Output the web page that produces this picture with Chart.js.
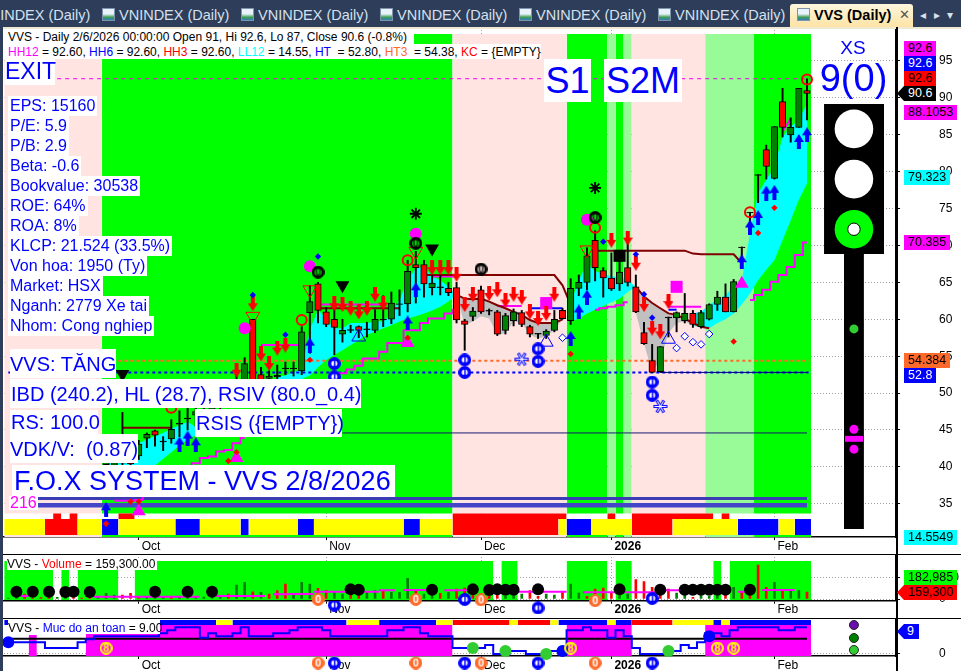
<!DOCTYPE html>
<html>
<head>
<meta charset="utf-8">
<title>VVS (Daily)</title>
<script src="https://cdn.jsdelivr.net/npm/chart.js@4/dist/chart.umd.min.js"></script>
<style>
html,body{margin:0;padding:0;background:#fff;overflow:hidden;width:961px;height:671px;font-family:"Liberation Sans",Arial,sans-serif}
canvas{position:absolute;left:0}
.abs{position:absolute}
.tabbar{left:0;top:0;width:961px;height:27px;background:#2d3d5a}
.tab{position:absolute;top:6px;color:#d5e1ee;font-size:14.5px;line-height:18px;white-space:nowrap}
.icon{position:absolute;top:8px;width:13px;height:13px;background:linear-gradient(#e8f2fb 45%,#3f9c4f 75%,#2f7fc0);border:1px solid #7f93ad;box-sizing:border-box}
.active{left:790px;top:4px;width:123px;height:23px;background:linear-gradient(#fdf6dc,#fde3a6);border-radius:3px 3px 0 0}
.lbl{position:absolute;background:#fff;color:#00f;white-space:nowrap;line-height:1;display:flex;align-items:center;box-sizing:border-box}
.tag{position:absolute;left:904px;height:15px;font-size:12.5px;line-height:15px;padding-left:4px;box-sizing:border-box;color:#000;white-space:nowrap}
.arrow{left:897px;padding-left:11px;clip-path:polygon(0 50%,7px 0,100% 0,100% 100%,7px 100%)}
.sm{font-size:12px;color:#000}
</style>
</head>
<body>
<div class="abs tabbar"></div>
<div class="tab" style="left:-20px">VNINDEX (Daily)</div>
<div class="icon" style="left:102px"></div><div class="tab" style="left:119px">VNINDEX (Daily)</div>
<div class="icon" style="left:241px"></div><div class="tab" style="left:258px">VNINDEX (Daily)</div>
<div class="icon" style="left:380px"></div><div class="tab" style="left:397px">VNINDEX (Daily)</div>
<div class="icon" style="left:519px"></div><div class="tab" style="left:536px">VNINDEX (Daily)</div>
<div class="icon" style="left:658px"></div><div class="tab" style="left:675px">VNINDEX (Daily)</div>
<div class="abs active"></div>
<div class="icon" style="left:797px"></div>
<div class="tab" style="left:814px;color:#000;font-weight:bold">VVS (Daily)</div>
<div class="tab" style="left:899px;color:#555;font-size:13px">✕</div>
<div class="tab" style="left:920px;font-size:12px;font-family:'DejaVu Sans'">◂</div>
<div class="tab" style="left:934px;font-size:12px;font-family:'DejaVu Sans'">▸</div>
<div class="tab" style="left:947px;font-size:12px;font-family:'DejaVu Sans'">▾</div>

<canvas id="mainPane" width="961" height="527" style="top:27px"></canvas>
<canvas id="volumePane" width="961" height="64" style="top:554px"></canvas>
<canvas id="safetyPane" width="961" height="53" style="top:618px"></canvas>
<canvas id="volumeRow" width="961" height="17" style="top:601px"></canvas>
<canvas id="safetyRow" width="961" height="15" style="top:656px"></canvas>

<div class="abs" style="left:0;top:27px;width:3px;height:644px;background:#2d3d5a"></div>
<div class="abs" style="left:3px;top:27px;width:958px;height:2px;background:#efe8d2"></div>
<div class="abs" style="left:896px;top:27px;width:1.5px;height:644px;background:#000"></div>
<div class="abs" style="left:3px;top:553.5px;width:958px;height:1.5px;background:#000"></div>
<div class="abs" style="left:3px;top:617.5px;width:958px;height:1.5px;background:#000"></div>

<div class="lbl sm" style="left:3px;top:29px;width:411px;height:15px;padding-left:5px">VVS - Daily 2/6/2026 00:00:00 Open 91, Hi 92.6, Lo 87, Close 90.6 (-0.8%)</div>
<div class="lbl sm" style="left:3px;top:44px;width:538px;height:15px;padding-left:5px;white-space:pre"><span style="color:#f0f">HH12</span> = 92.60, <span style="color:#00f">HH6</span> = 92.60, <span style="color:#f00">HH3</span> = 92.60, <span style="color:#0ff">LL12</span> = 14.55, <span style="color:#00f">HT</span>  = 52.80, <span style="color:#ff6a2a">HT3</span>  = 54.38, <span style="color:#f00">KC</span> = {EMPTY}</div>

<div class="lbl" style="left:5px;top:58px;width:50px;height:27px;font-size:23px">EXIT</div>
<div class="lbl" style="left:8px;top:96px;height:20px;font-size:16px;padding:0 2px">EPS: 15160</div>
<div class="lbl" style="left:8px;top:116px;height:20px;font-size:16px;padding:0 2px">P/E: 5.9</div>
<div class="lbl" style="left:8px;top:136px;height:20px;font-size:16px;padding:0 2px">P/B: 2.9</div>
<div class="lbl" style="left:8px;top:156px;height:20px;font-size:16px;padding:0 2px">Beta: -0.6</div>
<div class="lbl" style="left:8px;top:176px;height:20px;font-size:16px;padding:0 2px">Bookvalue: 30538</div>
<div class="lbl" style="left:8px;top:196px;height:20px;font-size:16px;padding:0 2px">ROE: 64%</div>
<div class="lbl" style="left:8px;top:216px;height:20px;font-size:16px;padding:0 2px">ROA: 8%</div>
<div class="lbl" style="left:8px;top:236px;height:20px;font-size:16px;padding:0 2px">KLCP: 21.524 (33.5%)</div>
<div class="lbl" style="left:8px;top:256px;height:20px;font-size:16px;padding:0 2px">Von hoa: 1950 (Ty)</div>
<div class="lbl" style="left:8px;top:276px;height:20px;font-size:16px;padding:0 2px">Market: HSX</div>
<div class="lbl" style="left:8px;top:296px;height:20px;font-size:16px;padding:0 2px">Nganh: 2779 Xe tai</div>
<div class="lbl" style="left:8px;top:316px;height:20px;font-size:16px;padding:0 2px">Nhom: Cong nghiep</div>
<div class="lbl" style="left:10px;top:349px;width:106px;height:29px;font-size:20px">VVS: TĂNG</div>
<div class="lbl" style="left:10px;top:379px;width:351px;height:29px;font-size:20px;padding-left:1px">IBD (240.2), HL (28.7), RSIV (80.0_0.4)</div>
<div class="lbl" style="left:10px;top:410px;width:88px;height:24px;font-size:20px;padding-left:1px">RS: 100.0</div>
<div class="lbl" style="left:195px;top:409px;width:147px;height:28px;font-size:20px;padding-left:1px">RSIS ({EMPTY})</div>
<div class="lbl" style="left:10px;top:434px;width:128px;height:29px;font-size:20px;white-space:pre">VDK/V:  (0.87)</div>
<div class="lbl" style="left:12px;top:465px;width:383px;height:32px;font-size:27px;padding-left:2px">F.O.X SYSTEM - VVS 2/8/2026</div>
<div class="lbl" style="left:9px;top:496px;width:29px;height:14px;font-size:16px;color:#f0f;padding-left:1px">216</div>
<div class="lbl" style="left:544px;top:59px;width:47px;height:43px;font-size:36px;justify-content:center">S1</div>
<div class="lbl" style="left:604px;top:59px;width:78px;height:43px;font-size:36px;justify-content:center">S2M</div>
<div class="lbl" style="left:811px;top:38px;width:84px;height:18px;font-size:19px;justify-content:center;background:none">XS</div>
<div class="lbl" style="left:811px;top:58px;width:85px;height:40px;font-size:38px;justify-content:center;background:none">9(0)</div>
<div class="lbl sm" style="left:7px;top:558px;width:150px;height:12px"><span>VVS - <span style="color:#f00">Volume</span> = 159,300.00</span></div>
<div class="lbl sm" style="left:8px;top:619px;width:152px;height:15px;padding-top:3px"><span>VVS - <span style="color:#00f">Muc do an toan</span> = 9.00</span></div>

<div class="tag" style="top:41px;width:32px;background:#f0f">92.6</div>
<div class="tag" style="top:56px;width:32px;background:#00f;color:#fff">92.6</div>
<div class="tag" style="top:71px;width:32px;background:#f00">92.6</div>
<div class="tag arrow" style="top:86px;width:39px;background:#000;color:#fff">90.6</div>
<div class="tag" style="top:105px;width:53px;background:#f0f">88.1053</div>
<div class="tag" style="top:170px;width:46px;background:#0ff">79.323</div>
<div class="tag" style="top:235px;width:46px;background:#f0f">70.385</div>
<div class="tag" style="top:353px;width:46px;background:#ff6a2a">54.384</div>
<div class="tag" style="top:368px;width:32px;background:#00f;color:#fff">52.8</div>
<div class="tag" style="top:530px;width:53px;background:#0ff">14.5549</div>
<div class="tag" style="top:570px;width:53px;background:#0f0">182,985</div>
<div class="tag arrow" style="top:585px;width:60px;background:#f00">159,300</div>
<div class="tag arrow" style="top:624px;width:22px;background:#00f;color:#fff;padding-left:10px">9</div>

<script>
// bars are numbered 0..98, month ticks sit on these bars
const monthTicks = [16, 39, 58, 74, 94];
const monthLabels = ['Oct', 'Nov', 'Dec', '2026', 'Feb'];
const priceTicks = [35, 40, 45, 50, 55, 60, 65, 70, 75, 80, 85, 90, 95];

const firstCandle = 12;
const opens = [40.3,40.2,41,41,41.5,43.9,44.9,43.5,43.8,45.9,
  46.6,47,49,47.8,49,49.5,50,50.7,60,52.5,
  52,52.2,53.4,53.4,53,60.9,64.8,61,60,58,
  58.6,59,58.7,58.5,60,60,62.1,62.1,67.4,67.4,
  64.3,64.4,64.2,64.3,59.8,60.4,64,61.2,61,58.5,
  59.8,60.9,59,58.1,57.8,58.5,61.2,59.8,64.2,65,
  70.7,66.6,65.6,64.8,67,64.4,58.2,54.4,52.9,60.3,
  60.2,59.8,60.8,59,60,62,63,61,69.7,74.5,
  79.6,83,79.1,89.5,85,86,91];
const closes = [41,40.6,40.5,40.4,43.1,44.4,44.3,43.4,45.1,45.8,
  46.5,47.5,48,48.6,48.2,48.5,51.5,54,50,51.5,
  52.3,52.4,53.3,53.3,58.3,62.4,61.2,59.3,58.9,58.5,
  58.5,58.5,58.6,60,59.9,62.2,62,66.5,67,64.8,
  64.9,64.3,63.6,59.9,59.3,61.1,61,61.1,58,60.5,
  61,59.3,58,58,58.4,60,60.1,64.2,65,68.6,
  67,65.6,64.1,66.4,65,61,56.7,52.8,56.3,60.2,
  60.9,60.8,59.3,60.9,62,63,61,65.1,69.8,74.4,
  79.5,80.7,86.1,86,86,91.3,90.6];
const highs = [42,41,47.4,42,43.6,44.6,45,44.1,46.4,47.6,
  48,49,50,50,50.5,51,53,54.8,60,53.5,
  53,53.8,54.2,54.2,59,64.6,65,61.6,62,60,
  59.2,59.1,59.6,61.3,63.2,63.7,64,68,69.2,68,
  66,66,65,65,60,61.6,64.5,61.4,61.2,60.8,
  61.4,61.2,59.2,58.1,58.6,61.2,61.5,65.5,66,69.7,
  72,67,69,69,70.6,66,59.6,56.6,56.3,60.3,
  61,63.5,61.2,61.2,62.1,63.8,64.8,65.4,69.8,74.5,
  79.6,83.6,86.1,91.3,87.3,91.3,92.6];
const lows = [39,39,40,40,41,42.6,42.8,42.2,43.2,44.1,
  45,45.5,47,47,47.5,48,49,50,49,51,
  50.5,51.5,52.5,52.3,52.5,55.4,59.5,59,55.2,56.9,
  58.2,57.5,57.6,58.2,59,59.4,60.5,61,62.2,63,
  63.3,63.3,63.2,59.5,55.8,59.8,60.8,60.6,57.8,58,
  59.1,59,57.6,57.4,57.4,58.3,60,59.3,63.2,64,
  65.2,63,63.9,63.9,64.5,60.9,56.6,52.8,52.8,57.6,
  58.3,59.5,58.9,58.8,59.9,61.2,61,61,67,72,
  75.8,79,79,84.7,84,86,87];

// background regimes, given as bar edges
const zoneEdges = [0,12,55,69,74,75,76,77,86,92,99];
const zoneKinds = ['exit','buy','exit','buy','hold','buy','hold','exit','hold','buy'];
const stripEdges = [0,5,9,12,14,21,24,29,30,36,38,49,51,55,68,69,72,77,82,90,95,97,99];
const stripKinds = ['side','down','side','up','side','up','side','up','side','up','side','up','side','down','side','up','side','down','side','up','side','up'];
const alertStarts = [6,8,14,55,74,77,88];
const alertEnds = [7,9,16,69,75,87,89];

// cyan band: bar of first value, then lower and upper edge
const cyanA = {start:4, low:[35.5,35.6,35.6,35.7,35.8,35.9,36,36.4,36.8,37.5,38,38.6,39.1,39.6,40.2,41.1,42,42.9,43.7,44.3],
  high:[38,38,38.5,39,39,39.5,40,40,40.5,41,41.5,42,43.2,43.7,44.2,44.6,45.2,45.6,46.1,45.4]};
const cyanB = {start:33, low:[48,49,50,51.9,52.4,53.5,54.5,55.2,55.8,56.5,57.2,57.9,58.3,58.8,59.2,59.7,60.1,60.4,60.8,61.2,61.7,62.4,63.3],
  high:[52.2,52.4,52.9,53.1,58.6,61.3,60.1,58.8,58.8,59.5,59.5,59.5,59.7,59.7,60.8,62.6,65.3,66.9,67.1,65.8,65.3,64.4,63.3]};
const cyanC = {start:69, low:[59.7,60.1,60.8,61.3,61.8,62.3,62.8,63.7,64.4], high:[62.2,65.3,67.6,66.5,66.2,65.8,65.8,65.3,64.4]};
const cyanD = {start:84, low:[59.1,59,58.8,59.5,60,60.8,62,63.5,65.3,66.7,68,70.7,73.4,76.2,78.4],
  high:[60.8,61,62,62.6,63.3,64.4,65.3,71.6,77.1,78.9,80.7,84.7,86.1,87,89.2]};
// grey band, its upper edge is the falling dark red line
const greyA = {start:55, low:[63.3,59.2,59.7,60.4,60.1,57.9,58.1,59.7,59.5,57.9,57.4,57.7,58.5,60],
  high:[63.3,62.8,62.7,62.8,62.4,61.9,61.5,61,60.6,59.9,59.5,59.5,59.5,60]};
const greyB = {start:77, low:[60.9,56.7,52.9,54.5,58.1,59.5,59.7,59.2,59,58.8],
  high:[64.4,63.1,62.2,61.5,60.8,60.6,60.1,59.5,59,58.8]};

// stepped lines
const lowLineA = {start:13, values:[35.4,35.4,35.4,35.5,37,37.5,38,38.5,39,40,40.5,41.2,41.4,42.1,42.3,43.2,43.9]};
const lowLineB = {start:40, values:[52.7,52.7,53.2,53.7,54.7,54.7,55.6,56.8,56.8,58.5,58.5,59.5,60.1,60.1,60.8,61.3]};
const lowLineC = {start:72, values:[61.3,61.5,61.7,61.9,62.3]};
const lowLineD = {start:91, values:[62.6,63.3,64,65.1,66,67.1,68.7,70.4]};
const midLineRuns = [
  {start:31, values:[56.5,56.5,56.5,56.5,56.5,56.5]},
  {start:38, values:[62,62,62,62,62,62,62,62,62]},
  {start:52, values:[65.8,65.8,65.8,65.8]},
  {start:60, values:[61.8,61.8,61.8,61.8]},
  {start:81, values:[61.7,61.7,61.7,61.7,61.7]},
  {start:95, values:[85.4,87.2]}];
const blueLineRuns = [{start:64, values:[61.5,61.5,61.5,61.5,61.5]}, {start:81, values:[61.3,61.3]}];
const darkLineRuns = [
  {start:14, values:[45.3,45.3,45.3,45.3,45.3,45.3,45.3]},
  {start:38, values:[61.5,61.5,61.5,61.5,61.5,61.5,61.5,61.5,61.5,61.5,61.5]},
  {start:51, values:[66,66,66,66,66,66,66,66,66,66,66,66,66,66,66,66,66,64.6,62]},
  {start:72, values:[69.3,69.3,69.3,69.3,69.3,69.3,69.3,69.3,69.3,69.3,69.3,69.3,68.9,68.8,68.8,68.8,68.8,68.8,67.6]}];

// levels: [value, first bar, last bar]
const levelHH = [92.6, 6, 98.4];
const levelHT3 = [54.38, 13.5, 98.2];
const levelHT = [52.8, 0, 98.2];
const levelHTsolid = [52.8, 80, 98];
const levelMid = [44.6, 41, 98];
const levelBandUp = [35.7, 3, 98];
const levelBandLow = [34.8, 3, 98];

// markers: [bar, price]
const upArrows = [[12,34.2],[21,43.1],[22,43.9],[23,43],[37,56.5],[49,59.5],[50,64],[69,57.4],[70,61],[71,63],[90,67.8],[91,72.5],[92,73.8],[93,77.1],[94,77.2],[97,84.1],[98,85]];
const downArrows = [[28,53.1],[30,62.1],[31,55.3],[32,54],[33,56.1],[34,56.5],[40,62.1],[41,62],[42,61.5],[43,61],[44,61.5],[45,63.4],[46,62.2],[52,67],[53,67],[54,67],[55,66.1],[56,62],[57,63.4],[59,63.5],[60,64],[61,62.6],[62,63.4],[63,63],[64,61],[65,60.1],[66,60.8],[67,63.4],[74,70.7],[76,71],[77,67.6],[78,62],[79,58.8],[80,58.3],[81,62.4]];
const pinkDisks = [[29,58.8],[37,67.2],[50,71.6],[71,73.5]];
const blackCoins = [[38,66.4],[50,70.3],[58,66.8],[72,73.8]];
const redRings = [[20,48],[36,59.9],[49,68],[72,72.4],[91,74.5],[98,92.5]];
const redWedges = [[30,60.4],[37,64],[50,69.2],[71,69.4]];
const blackWedges = [[14,52.6],[41,64.6],[52,69.6]];
const blackStars = [[50,74.3],[72,77.8]];
const blackSquares = [[75,68.6]];
const pinkSquares = [[66,62.2],[82,64.4]];
const pinkCones = [[16,34],[28,41.2],[49,56.8],[90,64.8]];
const blueCones = [[43,57.6],[66,56.9],[81,57.3]];
const blueCoins = [[40,54],[40,52.2],[56,54.5],[56,52.8],[65,56],[65,54.3],[79,51.5],[79,49.7]];
const snowflakes = [[63,54.6],[80,48.2]];
const hollowDiamonds = [[68,57.5],[82,56.1],[83,57.7],[84,56.9],[85,56.6],[86,58]];
const redDiamonds = [[12,32.3],[15,35.3],[16,35.3],[27,40.8],[28,42],[37,54.5],[49,57.5],[69,55.3],[89,57],[92,71.7],[94,75.1]];
const blueDiamonds = [[30,63.3],[34,57.9],[38,68.5],[73,70.5],[77,68.8],[78,63.4],[79,60.2]];

// traffic light beside the chart, in bars and price
const lampColumn = 103.76;
const whiteLamps = [85.8, 79];
const greenLamp = [72.2];
const signalGreen = [58.7];
const signalPink = [45.1, 42.4];

// volume pane, thousands of shares
const volumes = [23,39,116,23,31,31,39,31,31,23,39,46,131,92,92,131,39,62,62,62,62,46,39,39,46,46,77,116,323,385,169,154,116,193,347,116,385,347,246,193,154,116,92,116,154,193,193,154,154,477,216,116,154,131,154,231,254,154,131,62,92,62,77,116,193,62,116,92,154,347,139,62,231,254,131,154,116,447,400,270,154,231,139,92,39,77,62,77,92,270,154,193,785,270,385,216,193,193,159.3];
const volumeDownBars = [2,3,4,5,8,9,10,14,15,16,20,27,30,32,33,34,38,39,42,43,46,50,53,55,56,57,58,59,60,64,65,68,71,72,73,74,77,78,79,80,81,84,88,90,91,92,93,95,98];
const volumeAvgRuns = [[2,2,69],[11,23,54],[26,31,69],[33,34,108],[35,37,116],[38,45,169],[46,47,200],[49,51,208],[54,56,200],[63,64,169],[66,68,169],[71,74,154],[76,79,154],[81,82,200],[90,90,169],[93,96,208]];
const volumeZoneEdges = [0,6,7,8,9,14,16,60,61,63,69,74,75,77,87,88,89,99];
const volumeDots = [[1,169],[3,169],[5,169],[7,162],[8,169],[10,162],[18,169],[22,169],[25,169],[42,223],[43,215],[52,215],[57,223],[59,208],[60,223],[61,215],[62,215],[65,223],[75,223],[80,215],[83,215],[84,215],[85,215],[86,215],[87,215],[88,215],[91,215]];
const volumeOrangeCoins = [[38,-8],[50,-8],[58,-20],[72,-38]];
const volumeBlueCoins = [[56,-8],[79,15]];
const volumeRowBlueCoins = [[40,.76],[65,.59]];
const volumeTicks = [0, 500];

// safety pane
const safety = [4,4,4,4,4,2,2,2,2,4,5,6,6,6,6,6,6,6,6,7,8,9,9,9,5.5,7,6,6,7,9,6,6,6,7,7,8,9,9,9,8,6,6,6,6,6,6,6,8,8,9,9,7,6,6,6,2,2,2,2,3,0,0,1,1,0,0,0,1,0,8,8,9,8,8,5.5,8,6,2,0,0,0,1,1,3,2,4,7,7,6,8,9,9,9,9,9,8,8,9,9];
const safetyStripEdges = [0,26,28,42,46,53,55,62,63,67,68,74,75,77,82,87,88,89,99];
const safetyStripKinds = ['up','side','up','side','up','side','down','side','down','side','up','side','up','down','side','up','side','up'];
const safetyFillRuns = [[10,55],[69,77],[86,99]];
const safetyThinRun = [3, 4, 6.4];
const safetyMidLine = 5.15;
const safetyGreenDots = [[57,2],[61,1],[66,0],[81,1]];
const safetyBlueDots = [[0,4],[68,1],[86,6]];
const yellowCoins = [[12,2],[69,2],[87,2],[89,2]];
const safetyRowOrangeCoins = [[38,.53],[50,.53],[58,.53],[72,.53]];
const safetyRowBlueCoins = [[40,.53],[56,.53],[65,.53],[79,.53]];
const safetyLegendDots = [9.8, 5.4, 1.35];
const safetyTicks = [0];

const ZONE = {exit:'#ffe4e1', buy:'#00ff00', hold:'#98fb98'};
const STRIP = {up:'#0000ff', side:'#ffff00', down:'#ff0000'};
const FONT = '"Liberation Sans", Arial, sans-serif';
const X_MIN = -0.528, X_MAX = 108.92;

Chart.defaults.font.family = FONT;
Chart.defaults.font.size = 12;
Chart.defaults.color = '#000';

// helpers for datasets
function band(x0, x1, lo, hi, color, order) {
  return {type:'line', data:[{x:x0,y:hi},{x:x1,y:hi}], fill:{value:lo}, backgroundColor:color,
    borderWidth:0, borderColor:'transparent', pointRadius:0, order:order};
}
function runBands(edges, kinds, palette, lo, hi, order) {
  return kinds.map((k, n) => band(edges[n]-.5, edges[n+1]-.5, lo, hi, palette[k], order));
}
function run(seg, key) {
  const vals = key ? seg[key] : seg.values;
  return vals.map((y, k) => ({x:seg.start+k, y:y}));
}
function line(data, color, width, order, extra) {
  return Object.assign({type:'line', data:data, borderColor:color, borderWidth:width, pointRadius:0, fill:false, order:order}, extra);
}
function level(l, color, width, order, extra) {
  return line([{x:l[1],y:l[0]},{x:l[2],y:l[0]}], color, width, order, extra);
}
function marks(pts, style, radius, fillColor, edge, edgeWidth, order, extra) {
  return Object.assign({type:'line', showLine:false, clip:false, data:pts.map(p => ({x:p[0],y:p[1]})), pointStyle:style, pointRadius:radius,
    pointBackgroundColor:fillColor, pointBorderColor:edge, pointBorderWidth:edgeWidth, order:order}, extra);
}
function fillPair(seg, color, order) {
  return [
    line(run(seg,'low'), 'transparent', 0, order),
    line(run(seg,'high'), 'transparent', 0, order, {fill:'-1', backgroundColor:color})
  ];
}

// small canvases used as point styles
function glyph(w, h, draw) {
  const c = document.createElement('canvas');
  c.width = w; c.height = h;
  draw(c.getContext('2d'), w, h);
  return c;
}
const arrowUp = glyph(10, 15, (g) => {
  g.fillStyle = '#0000ff';
  g.beginPath(); g.moveTo(5,0); g.lineTo(10,8); g.lineTo(7,8); g.lineTo(7,15); g.lineTo(3,15); g.lineTo(3,8); g.lineTo(0,8); g.closePath(); g.fill();
});
const arrowDown = glyph(10, 15, (g) => {
  g.fillStyle = '#ff0000';
  g.beginPath(); g.moveTo(5,15); g.lineTo(10,7); g.lineTo(7,7); g.lineTo(7,0); g.lineTo(3,0); g.lineTo(3,7); g.lineTo(0,7); g.closePath(); g.fill();
});
function coin(size, ring, inner, ink, text, lw, fontSize) {
  return glyph(size, size, (g, w) => {
    g.beginPath(); g.arc(w/2, w/2, w/2-lw/2, 0, Math.PI*2);
    g.fillStyle = inner; g.fill();
    g.lineWidth = lw; g.strokeStyle = ring; g.stroke();
    g.fillStyle = ink; g.font = 'bold ' + fontSize + 'px ' + FONT;
    g.textAlign = 'center'; g.textBaseline = 'middle';
    g.fillText(text, w/2, w/2+.5);
  });
}
const coinBlack = coin(13, '#000', 'rgba(0,0,0,0)', '#000', '0', 3, 10);
const coinBlue = coin(13, '#0000ff', '#fff', '#0000ff', '1', 3.5, 11);
const coinOrange = coin(13, '#ff6a2a', '#ff6a2a', '#fff', '0', 1, 11);
const coinYellow = coin(13, '#ffff00', 'rgba(0,0,0,0)', '#ffff00', '8', 2, 11);
const flake = glyph(15, 15, (g) => {
  g.strokeStyle = '#0000ff'; g.lineWidth = 3;
  for (const a of [0, 60, 120]) {
    g.save(); g.translate(7.5,7.5); g.rotate(a*Math.PI/180);
    g.beginPath(); g.moveTo(-7,0); g.lineTo(7,0); g.stroke();
    g.restore();
  }
  g.strokeStyle = '#fff'; g.lineWidth = 1;
  for (const a of [0, 60, 120]) {
    g.save(); g.translate(7.5,7.5); g.rotate(a*Math.PI/180);
    g.beginPath(); g.moveTo(-6,0); g.lineTo(6,0); g.stroke();
    g.restore();
  }
});

// tick padding on these axes would otherwise shrink the plot area
function noPadding(a) {
  a.paddingTop = 0; a.paddingBottom = 0; a.paddingLeft = 0; a.paddingRight = 0;
}
function xScale(height, grid) {
  return {type:'linear', min:X_MIN, max:X_MAX, offset:false,
    afterBuildTicks: a => { a.ticks = monthTicks.map(v => ({value:v})); },
    afterFit: a => { a.height = height; noPadding(a); },
    border:{display:true, color:'#000', width:1.5, dash:[1,2]},
    grid:{display:true, offset:false, drawOnChartArea:grid, color:'#a0a0a0', tickColor:'#000', tickLength:3, tickBorderDash:[]},
    ticks:{autoSkip:false, maxRotation:0, minRotation:0, align:'start', labelOffset:3, padding:-1,
      callback: v => monthLabels[monthTicks.indexOf(v)],
      font: c => ({family:FONT, size:12, weight: c.tick && c.tick.value === 74 ? 'bold' : 'normal'})}};
}
function yScale(min, max, list) {
  return {type:'linear', position:'right', min:min, max:max,
    afterBuildTicks: a => { a.ticks = list.map(v => ({value:v})); },
    afterFit: a => { a.width = 65; noPadding(a); },
    border:{display:true, color:'#000', width:1.5, dash:[1,2]},
    grid:{color:'#a0a0a0', tickColor:'#000', tickLength:4, tickBorderDash:[]},
    ticks:{padding:39, font:{family:FONT, size:12}}};
}
function options(x, y) {
  return {responsive:false, animation:false, devicePixelRatio:1, events:[],
    layout:{autoPadding:false, padding:{left:4, top:0, right:0, bottom:0}},
    plugins:{legend:{display:false}, tooltip:{enabled:false}},
    scales:{x:x, y:y}};
}
// coins under a pane sit in the date row, outside that pane's plot area
function rowOptions() {
  return {responsive:false, animation:false, devicePixelRatio:1, events:[],
    layout:{autoPadding:false, padding:{left:4, top:0, right:65, bottom:0}},
    plugins:{legend:{display:false}, tooltip:{enabled:false}},
    scales:{x:{type:'linear', display:false, min:X_MIN, max:X_MAX}, y:{type:'linear', display:false, min:0, max:1}}};
}

// main pane
const TOP = 98.66, BOTTOM = 33.7, STRIP_TOP = 32.94, STRIP_LOW = 30.77, PANE_LOW = 30.5;
const mainSets = [];
mainSets.push(...runBands(zoneEdges, zoneKinds, ZONE, BOTTOM, TOP, 100));
mainSets.push(...runBands(zoneEdges, zoneKinds, ZONE, PANE_LOW, STRIP_LOW, 100));
mainSets.push(...runBands(stripEdges, stripKinds, STRIP, STRIP_LOW, STRIP_TOP, 99));
alertStarts.forEach((s, n) => mainSets.push(band(s-.5, alertEnds[n]-.5, STRIP_TOP, BOTTOM, '#ff0000', 99)));
for (const seg of [cyanA, cyanB, cyanC, cyanD]) mainSets.push(...fillPair(seg, '#00ffff', 90));
for (const seg of [greyA, greyB]) mainSets.push(...fillPair(seg, '#c0c0c0', 89));
mainSets.push(level(levelHH, '#ee00ee', 1, 70, {borderDash:[4,4]}));
mainSets.push(level(levelHT3, '#ff6a2a', 2, 70, {borderDash:[3,3]}));
mainSets.push(level(levelHT, '#0000ff', 2, 70, {borderDash:[3,3]}));
mainSets.push(level(levelHTsolid, '#000080', 1, 69));
mainSets.push(level(levelMid, '#191970', 1, 70));
mainSets.push(level(levelBandUp, '#3c3cb4', 3, 70));
mainSets.push(level(levelBandLow, '#4444c8', 4.5, 70));
for (const seg of [lowLineA, lowLineB, lowLineC, lowLineD]) mainSets.push(line(run(seg), '#ff00ff', 2, 60, {stepped:'middle'}));
for (const seg of midLineRuns) mainSets.push(line(run(seg), '#ff00ff', 2, 60));
for (const seg of blueLineRuns) mainSets.push(line(run(seg), '#0000ff', 2, 60));
for (const seg of darkLineRuns) mainSets.push(line(run(seg), '#800000', 2, 55));
mainSets.push(line(run({start:greyA.start, values:greyA.high}), '#800000', 2, 55));
mainSets.push(line(run({start:greyB.start, values:greyB.high}), '#800000', 2, 55));

const barIndex = opens.map((_, k) => firstCandle + k);
mainSets.push({type:'bar', grouped:false, data:barIndex.map((x, k) => ({x:x, y:[lows[k], highs[k]]})),
  backgroundColor:'#000', borderWidth:0, barThickness:1.3, order:30});
mainSets.push({type:'bar', grouped:false, data:barIndex.map((x, k) => ({x:x, y:[opens[k], closes[k]]})),
  backgroundColor:barIndex.map((x, k) => Math.abs(opens[k]-closes[k]) < .2 ? '#000' : (closes[k] < opens[k] ? '#ff0000' : '#008000')),
  borderColor:'#000', borderWidth:1, borderSkipped:false, barThickness:6.5, order:29});

mainSets.push(marks(pinkDisks, 'circle', 6, '#ff00ff', '#ff00ff', 0, 20));
mainSets.push(marks(pinkSquares, 'rect', 8.5, '#ff00ff', '#ff00ff', 0, 28));
mainSets.push(marks(pinkCones, 'triangle', 8, '#ff00ff', '#ff00ff', 0, 27));
mainSets.push(marks(blueCones, 'triangle', 8, 'transparent', '#0000ff', 1, 18));
mainSets.push(marks(redWedges, 'triangle', 8, 'transparent', '#ff0000', 1, 18, {pointRotation:180}));
mainSets.push(marks(blackWedges, 'triangle', 8, '#000', '#000', 0, 18, {pointRotation:180}));
mainSets.push(marks(blackSquares, 'rect', 8.5, '#000', '#000', 0, 18));
mainSets.push(marks(upArrows, arrowUp, 5, '#00f', '#00f', 0, 15));
mainSets.push(marks(downArrows, arrowDown, 5, '#f00', '#f00', 0, 15));
mainSets.push(marks(redRings, 'circle', 5, 'transparent', '#ff0000', 2, 14));
mainSets.push(marks(blackCoins, coinBlack, 6, '#000', '#000', 0, 13));
mainSets.push(marks(blueCoins, coinBlue, 6, '#00f', '#00f', 0, 13));
mainSets.push(marks(snowflakes, flake, 7, '#00f', '#00f', 0, 13));
mainSets.push(marks(blackStars, 'star', 6, '#000', '#000', 1.8, 13));
mainSets.push(marks(hollowDiamonds, 'rectRot', 3.8, '#fff', '#0000ff', 1, 12));
mainSets.push(marks(redDiamonds, 'rectRot', 3.2, '#ff0000', '#ff0000', 0, 12));
mainSets.push(marks(blueDiamonds, 'rectRot', 3.2, '#0000ff', '#0000ff', 0, 12));

// traffic light
mainSets.push(band(100.09, 107.45, 68.85, 89.17, '#000', 50));
mainSets.push(band(102.54, 104.98, 31.6, 68.85, '#000', 50));
mainSets.push(band(102.66, 104.87, 43.4, 44.2, '#ff00ff', 9));
mainSets.push(marks(whiteLamps.map(v => [lampColumn, v]), 'circle', 19.3, '#fff', '#fff', 0, 10));
mainSets.push(marks(greenLamp.map(v => [lampColumn, v]), 'circle', 19.3, '#00ff00', '#00ff00', 0, 10));
mainSets.push(marks(greenLamp.map(v => [lampColumn, v]), 'circle', 6.2, '#fff', '#000', 1, 8));
mainSets.push(marks(signalGreen.map(v => [lampColumn, v]), 'circle', 4.5, '#32cd32', '#32cd32', 0, 8));
mainSets.push(marks(signalPink.map(v => [lampColumn, v]), 'circle', 4.5, '#ff00ff', '#ff00ff', 0, 8));

new Chart(document.getElementById('mainPane'), {type:'line', data:{datasets:mainSets},
  options:options(xScale(17, true), yScale(PANE_LOW, 99.607, priceTicks))});

// volume pane
const volumeSets = [];
for (let n = 0; n < volumeZoneEdges.length-1; n += 2) {
  volumeSets.push(band(volumeZoneEdges[n]-.5, volumeZoneEdges[n+1]-.5, -23, 878, '#00ff00', 100));
}
const downSet = new Set(volumeDownBars);
volumeSets.push({type:'bar', grouped:false, data:volumes.map((v, x) => ({x:x, y:v})),
  backgroundColor:volumes.map((v, x) => downSet.has(x) ? '#ff0000' : '#008000'), borderWidth:0, barThickness:2, order:30});
const avgPoints = [];
for (const r of volumeAvgRuns) {
  avgPoints.push({x:r[0]-.5, y:r[2]}, {x:r[1]+.5, y:r[2]}, {x:r[1]+.6, y:NaN});
}
volumeSets.push(line(avgPoints, '#ff00ff', 2, 25));
volumeSets.push(marks(volumeDots, 'circle', 6, '#000', '#000', 0, 20));
volumeSets.push(marks(volumeOrangeCoins, coinOrange, 6, '#fff', '#fff', 0, 12));
volumeSets.push(marks(volumeBlueCoins, coinBlue, 6, '#00f', '#00f', 0, 12));
new Chart(document.getElementById('volumePane'), {type:'line', data:{datasets:volumeSets},
  options:options(xScale(17.3, true), yScale(-38.5, 1039.5, volumeTicks))});
new Chart(document.getElementById('volumeRow'), {type:'line', data:{datasets:[
  marks(volumeRowBlueCoins, coinBlue, 6, '#00f', '#00f', 0, 1)]}, options:rowOptions()});

// safety pane
const safetySets = [];
const S_STRIP_HI = 11.49, S_STRIP_LOW = 9.8, S_LOW = -0.68, S_HIGH = 12.16;
safetySets.push(...runBands(safetyStripEdges, safetyStripKinds, STRIP, S_STRIP_LOW, S_STRIP_HI, 99));
for (const r of safetyFillRuns) safetySets.push(band(r[0]-.5, r[1]-.5, S_LOW, S_STRIP_LOW, '#ff00ff', 100));
safetySets.push(band(safetyThinRun[0]-.5, safetyThinRun[1]-.5, S_LOW, safetyThinRun[2], '#ff00ff', 100));
safetySets.push(line([{x:0,y:safetyMidLine},{x:98,y:safetyMidLine}], '#000', 2.2, 40));
safetySets.push(line(safety.map((v, x) => ({x:x, y:v})), '#0000ff', 2, 30, {stepped:'middle'}));
safetySets.push(marks(safetyGreenDots, 'circle', 6, '#32cd32', '#32cd32', 0, 20));
safetySets.push(marks(safetyBlueDots, 'circle', 6, '#0000ff', '#0000ff', 0, 20));
safetySets.push(marks(yellowCoins, coinYellow, 6, '#ff0', '#ff0', 0, 15));
safetySets.push(marks([[lampColumn, safetyLegendDots[0]]], 'circle', 4.5, '#6a0dad', '#222', 1, 15));
safetySets.push(marks([[lampColumn, safetyLegendDots[1]]], 'circle', 4.5, '#008000', '#222', 1, 15));
safetySets.push(marks([[lampColumn, safetyLegendDots[2]]], 'circle', 4.5, '#32cd32', '#222', 1, 15));
new Chart(document.getElementById('safetyPane'), {type:'line', data:{datasets:safetySets},
  options:options(xScale(15, false), yScale(S_LOW, S_HIGH, safetyTicks))});
new Chart(document.getElementById('safetyRow'), {type:'line', data:{datasets:[
  marks(safetyRowOrangeCoins, coinOrange, 6, '#fff', '#fff', 0, 1),
  marks(safetyRowBlueCoins, coinBlue, 6, '#00f', '#00f', 0, 1)]}, options:rowOptions()});
</script>
</body>
</html>
